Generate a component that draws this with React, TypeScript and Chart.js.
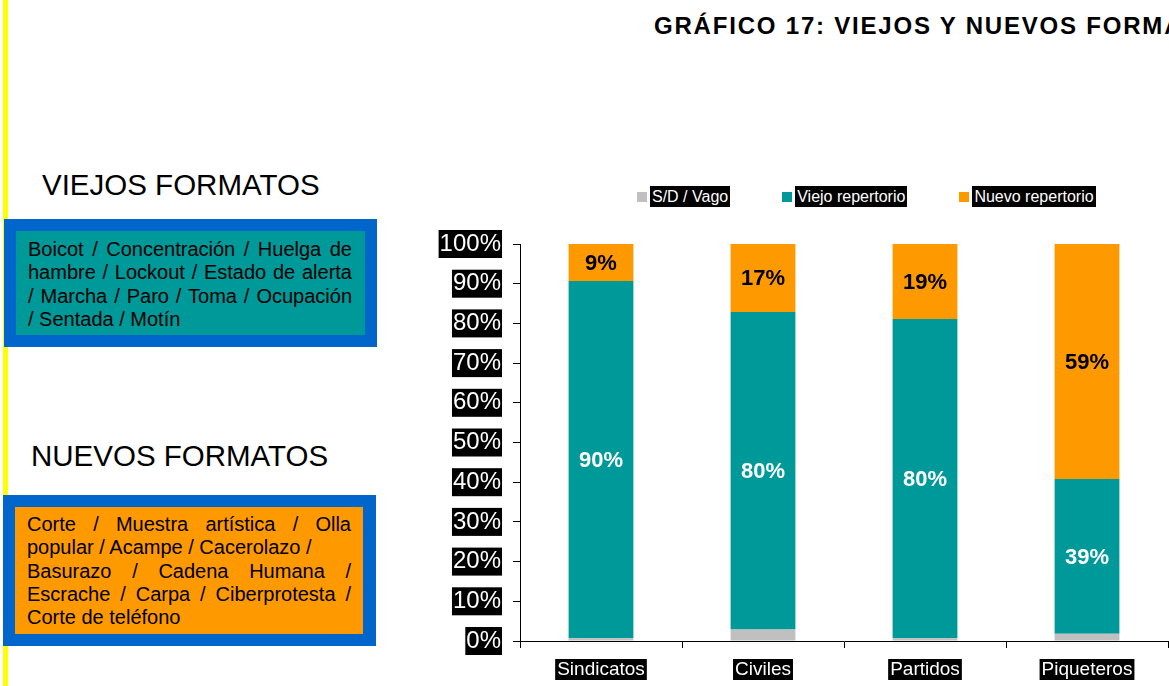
import React, { useEffect, useRef } from "react";
import { Chart, registerables } from "chart.js";

Chart.register(...registerables);

const FONT = '"Liberation Sans", Arial, Helvetica, sans-serif';

// ---- data ----
const categories = ["Sindicatos", "Civiles", "Partidos", "Piqueteros"];
const seriesNames = ["S/D / Vago", "Viejo repertorio", "Nuevo repertorio"];
const sdVago = [0.7, 2.9, 0.7, 1.8];
const viejoRepertorio = [90.0, 80.0, 80.4, 39.0];
const nuevoRepertorio = [9.3, 17.1, 18.9, 59.2];
const seriesColors = ["#C0C0C0", "#009999", "#FF9900"];

const titleText = "GRÁFICO 17: VIEJOS Y NUEVOS FORMATOS";
const viejosHeading = "VIEJOS FORMATOS";
const nuevosHeading = "NUEVOS FORMATOS";
const viejosLines = [
  "Boicot /  Concentración /  Huelga de",
  "hambre / Lockout / Estado de alerta",
  "/ Marcha / Paro / Toma / Ocupación",
  "/ Sentada / Motín",
];
const viejosJustify = [true, true, true, false];
const nuevosLines = [
  "Corte / Muestra artística / Olla",
  "popular / Acampe / Cacerolazo /",
  "Basurazo / Cadena Humana /",
  "Escrache / Carpa / Ciberprotesta /",
  "Corte de teléfono",
];
const nuevosJustify = [true, false, true, true, false];

const valueLabels = {
  id: "valueLabels",
  afterDatasetsDraw(chart: any) {
    const ctx = chart.ctx;
    ctx.save();
    ctx.font = `bold 22px ${FONT}`;
    ctx.textAlign = "center";
    ctx.textBaseline = "middle";
    [1, 2].forEach((di) => {
      const meta = chart.getDatasetMeta(di);
      meta.data.forEach((el: any, i: number) => {
        const { x, y, base } = el.getProps(["x", "y", "base"], true);
        const v = chart.data.datasets[di].data[i] as number;
        ctx.fillStyle = di === 1 ? "#FFFFFF" : "#000000";
        ctx.fillText(Math.round(v) + "%", x, (y + base) / 2 + 1);
      });
    });
    ctx.restore();
  },
};

function TextBox(props: { lines: string[]; justify: boolean[] }) {
  return (
    <>
      {props.lines.map((l, i) => (
        <div
          key={i}
          style={{
            whiteSpace: "pre",
            textAlign: props.justify[i] ? "justify" : "left",
            textAlignLast: props.justify[i] ? "justify" : "left",
          }}
        >
          {props.justify[i] ? l.replace(/ {2,}/g, " ") : l}
        </div>
      ))}
    </>
  );
}

export default function App() {
  const canvasRef = useRef<HTMLCanvasElement | null>(null);

  useEffect(() => {
    if (!canvasRef.current) return;
    const chart = new Chart(canvasRef.current, {
      type: "bar",
      data: {
        labels: categories,
        datasets: [
          { label: seriesNames[0], data: sdVago, backgroundColor: seriesColors[0] },
          { label: seriesNames[1], data: viejoRepertorio, backgroundColor: seriesColors[1] },
          { label: seriesNames[2], data: nuevoRepertorio, backgroundColor: seriesColors[2] },
        ].map((d) => ({ ...d, barPercentage: 0.4, categoryPercentage: 1, borderWidth: 0 })),
      },
      options: {
        responsive: false,
        animation: false,
        layout: { padding: { top: 19, right: 1, left: 0, bottom: 0 } },
        plugins: {
          legend: { display: false },
          tooltip: { enabled: false },
          title: { display: false },
        },
        scales: {
          x: {
            stacked: true,
            offset: true,
            grid: {
              display: true,
              drawOnChartArea: false,
              drawTicks: true,
              tickLength: 7,
              color: "#000",
              offset: true,
            },
            border: { display: true, color: "#000", width: 1 },
            ticks: {
              color: "#FFFFFF",
              font: { family: FONT, size: 19, lineHeight: 1 },
              padding: 12,
              showLabelBackdrop: true,
              backdropColor: "#000000",
              backdropPadding: { top: 1, bottom: 1, left: 2, right: 2 },
              maxRotation: 0,
              autoSkip: false,
            },
            afterFit: (s: any) => {
              s.height = 45;
            },
          },
          y: {
            stacked: true,
            min: 0,
            max: 100,
            ticks: {
              stepSize: 10,
              callback: (v: any) => v + "%",
              color: "#FFFFFF",
              font: { family: FONT, size: 24, lineHeight: 1 },
              padding: 12,
              showLabelBackdrop: true,
              backdropColor: "#000000",
              backdropPadding: { top: 2, bottom: 2, left: 1, right: 1 },
            },
            grid: {
              drawOnChartArea: false,
              drawTicks: true,
              tickLength: 7,
              color: "#000",
            },
            border: { display: true, color: "#000", width: 1 },
            afterFit: (s: any) => {
              s.width = 120;
            },
          },
        },
      },
      plugins: [valueLabels],
    });
    return () => chart.destroy();
  }, []);

  return (
    <div
      style={{
        position: "absolute",
        left: 0,
        top: 0,
        width: 1169,
        height: 686,
        background: "#FFFFFF",
        overflow: "hidden",
        fontFamily: FONT,
      }}
    >
      {/* yellow margin line */}
      <div style={{ position: "absolute", left: 3, top: 0, width: 5, height: 686, background: "#FFFF00" }} />

      {/* title */}
      <div
        style={{
          position: "absolute",
          left: 654,
          top: 14,
          fontSize: 24,
          lineHeight: 1,
          fontWeight: "bold",
          letterSpacing: 1.8,
          whiteSpace: "nowrap",
          color: "#000",
        }}
      >
        {titleText}
      </div>

      {/* headings */}
      <div style={{ position: "absolute", left: 42, top: 170, fontSize: 29.5, lineHeight: 1, color: "#000", whiteSpace: "nowrap" }}>
        {viejosHeading}
      </div>
      <div style={{ position: "absolute", left: 31, top: 441, fontSize: 29.5, lineHeight: 1, color: "#000", whiteSpace: "nowrap" }}>
        {nuevosHeading}
      </div>

      {/* viejos box */}
      <div style={{ position: "absolute", left: 4, top: 219, width: 373, height: 128, background: "#0066CC" }} />
      <div
        style={{
          position: "absolute",
          left: 16,
          top: 231,
          width: 349,
          height: 104,
          background: "#009999",
          boxSizing: "border-box",
          padding: "7px 13px 0 12px",
          fontSize: 20,
          lineHeight: "23.3px",
          color: "#000",
        }}
      >
        <TextBox lines={viejosLines} justify={viejosJustify} />
      </div>

      {/* nuevos box */}
      <div style={{ position: "absolute", left: 3, top: 495, width: 373, height: 151, background: "#0066CC" }} />
      <div
        style={{
          position: "absolute",
          left: 15,
          top: 507,
          width: 348,
          height: 127,
          background: "#FF9900",
          boxSizing: "border-box",
          padding: "6px 12px 0 12px",
          fontSize: 20,
          lineHeight: "23.3px",
          color: "#000",
        }}
      >
        <TextBox lines={nuevosLines} justify={nuevosJustify} />
      </div>

      {/* legend */}
      <div
        style={{
          position: "absolute",
          left: 637,
          top: 186,
          display: "flex",
          alignItems: "center",
          gap: 52,
        }}
      >
        {seriesNames.map((n, i) => (
          <div key={n} style={{ display: "flex", alignItems: "center" }}>
            <div style={{ width: 10, height: 10, background: seriesColors[i], marginRight: 3 }} />
            <span
              style={{
                background: "#000",
                color: "#FFF",
                fontSize: 16,
                lineHeight: "21px",
                padding: "0 2px",
                whiteSpace: "nowrap",
              }}
            >
              {n}
            </span>
          </div>
        ))}
      </div>

      {/* chart */}
      <canvas
        ref={canvasRef}
        width={769}
        height={466}
        style={{ position: "absolute", left: 400, top: 220, width: 769, height: 466 }}
      />
    </div>
  );
}
